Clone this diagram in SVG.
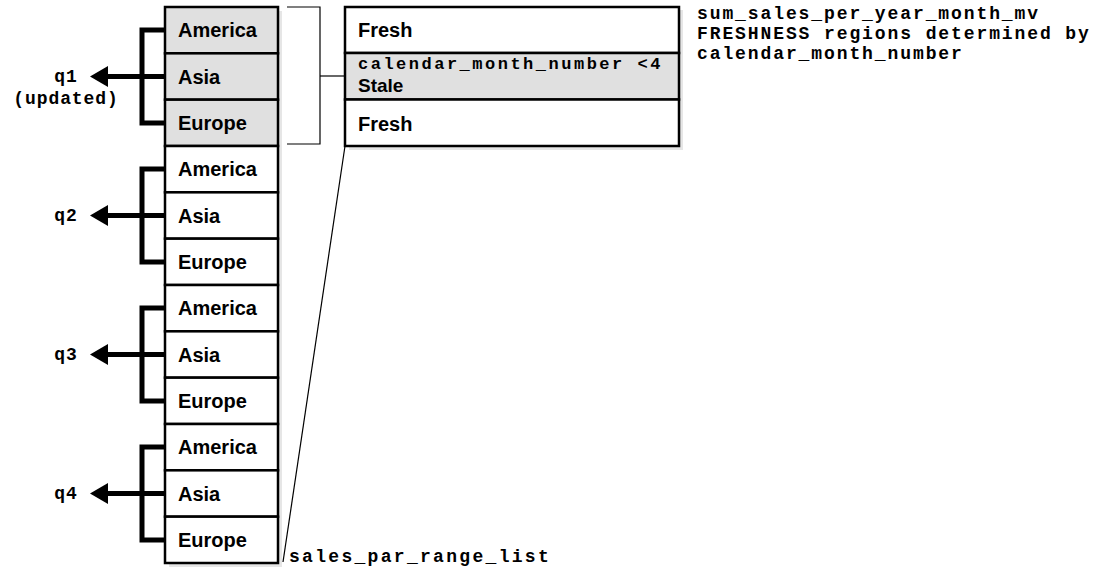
<svg xmlns="http://www.w3.org/2000/svg" width="1102" height="569" viewBox="0 0 1102 569">
<style>
.cell{stroke:#000;stroke-width:2.5}
.w{fill:#fff}
.g{fill:#e0e0e0}
.sh{fill:#e6e6e6}
.sans{font-family:"Liberation Sans",Arial,sans-serif;font-weight:bold;font-size:20px;fill:#000}
.mono{font-family:"Liberation Mono","Courier New",monospace;font-weight:bold;font-size:18px;letter-spacing:1.9px;fill:#000}
.q{font-size:18px;letter-spacing:0.9px}
.thick{stroke:#000;stroke-width:5;fill:none}
.thin{stroke:#000;stroke-width:1.2;fill:none}
</style>
<rect width="1102" height="569" fill="#fff"/>
<rect class="sh" x="169" y="11" width="113" height="556"/>
<rect class="sh" x="349" y="10" width="334" height="140"/>
<g id="col">
<g id="q1-america"><rect class="cell g" x="165" y="7" width="113" height="46.33"/><text class="sans" x="178" y="37">America</text></g>
<g id="q1-asia"><rect class="cell g" x="165" y="53.33" width="113" height="46.33"/><text class="sans" x="178" y="84">Asia</text></g>
<g id="q1-europe"><rect class="cell g" x="165" y="99.67" width="113" height="46.33"/><text class="sans" x="178" y="130">Europe</text></g>
<g id="q2-america"><rect class="cell w" x="165" y="146" width="113" height="46.33"/><text class="sans" x="178" y="176">America</text></g>
<g id="q2-asia"><rect class="cell w" x="165" y="192.33" width="113" height="46.33"/><text class="sans" x="178" y="223">Asia</text></g>
<g id="q2-europe"><rect class="cell w" x="165" y="238.67" width="113" height="46.33"/><text class="sans" x="178" y="269">Europe</text></g>
<g id="q3-america"><rect class="cell w" x="165" y="285" width="113" height="46.33"/><text class="sans" x="178" y="315">America</text></g>
<g id="q3-asia"><rect class="cell w" x="165" y="331.33" width="113" height="46.33"/><text class="sans" x="178" y="362">Asia</text></g>
<g id="q3-europe"><rect class="cell w" x="165" y="377.67" width="113" height="46.33"/><text class="sans" x="178" y="408">Europe</text></g>
<g id="q4-america"><rect class="cell w" x="165" y="424" width="113" height="46.33"/><text class="sans" x="178" y="454">America</text></g>
<g id="q4-asia"><rect class="cell w" x="165" y="470.33" width="113" height="46.33"/><text class="sans" x="178" y="501">Asia</text></g>
<g id="q4-europe"><rect class="cell w" x="165" y="516.67" width="113" height="46.33"/><text class="sans" x="178" y="547">Europe</text></g>
</g>
<g id="mv">
<g id="mv-fresh1"><rect class="cell w" x="345" y="7" width="334" height="46"/><text class="sans" x="358" y="37">Fresh</text></g>
<g id="mv-stale"><rect class="cell g" x="345" y="53" width="334" height="46.5"/><text class="mono" x="358" y="69" style="font-size:17px;letter-spacing:2.5px">calendar_month_number &lt;4</text><text class="sans" x="358" y="92" style="font-size:19px">Stale</text></g>
<g id="mv-fresh2"><rect class="cell w" x="345" y="99.5" width="334" height="46.5"/><text class="sans" x="358" y="131">Fresh</text></g>
</g>
<g id="labels">
<g id="lbl-q1"><text class="mono q" x="66" y="82" text-anchor="middle">q1</text><text class="mono q" x="66" y="104" text-anchor="middle">(updated)</text></g>
<g id="lbl-q2"><text class="mono q" x="66" y="221" text-anchor="middle">q2</text></g>
<g id="lbl-q3"><text class="mono q" x="66" y="360" text-anchor="middle">q3</text></g>
<g id="lbl-q4"><text class="mono q" x="66" y="499" text-anchor="middle">q4</text></g>
<g id="lbl-mv"><text class="mono" x="697" y="18.5">sum_sales_per_year_month_mv</text><text class="mono" x="697" y="38.5">FRESHNESS regions determined by</text><text class="mono" x="697" y="58.5">calendar_month_number</text></g>
<g id="lbl-table"><text class="mono" x="289" y="562" style="letter-spacing:2.3px">sales_par_range_list</text></g>
</g>
<g id="connectors">
<polyline class="thick" points="165,30 142,30 142,123 165,123"/>
<polyline class="thick" points="165,169 142,169 142,262 165,262"/>
<polyline class="thick" points="165,308 142,308 142,401 165,401"/>
<polyline class="thick" points="165,447 142,447 142,540 165,540"/>
<line class="thick" x1="165" y1="76.5" x2="106" y2="76.5"/>
<polygon points="90,76.5 108,66 108,87" fill="#000"/>
<line class="thick" x1="165" y1="215.5" x2="106" y2="215.5"/>
<polygon points="90,215.5 108,205 108,226" fill="#000"/>
<line class="thick" x1="165" y1="354.5" x2="106" y2="354.5"/>
<polygon points="90,354.5 108,344 108,365" fill="#000"/>
<line class="thick" x1="165" y1="493.5" x2="106" y2="493.5"/>
<polygon points="90,493.5 108,483 108,504" fill="#000"/>
<polyline class="thin" points="287,7 320,7 320,144 287,144"/>
<line class="thin" x1="320" y1="76" x2="345" y2="76"/>
<line class="thin" x1="345" y1="146" x2="283" y2="562"/>
</g>
</svg>
